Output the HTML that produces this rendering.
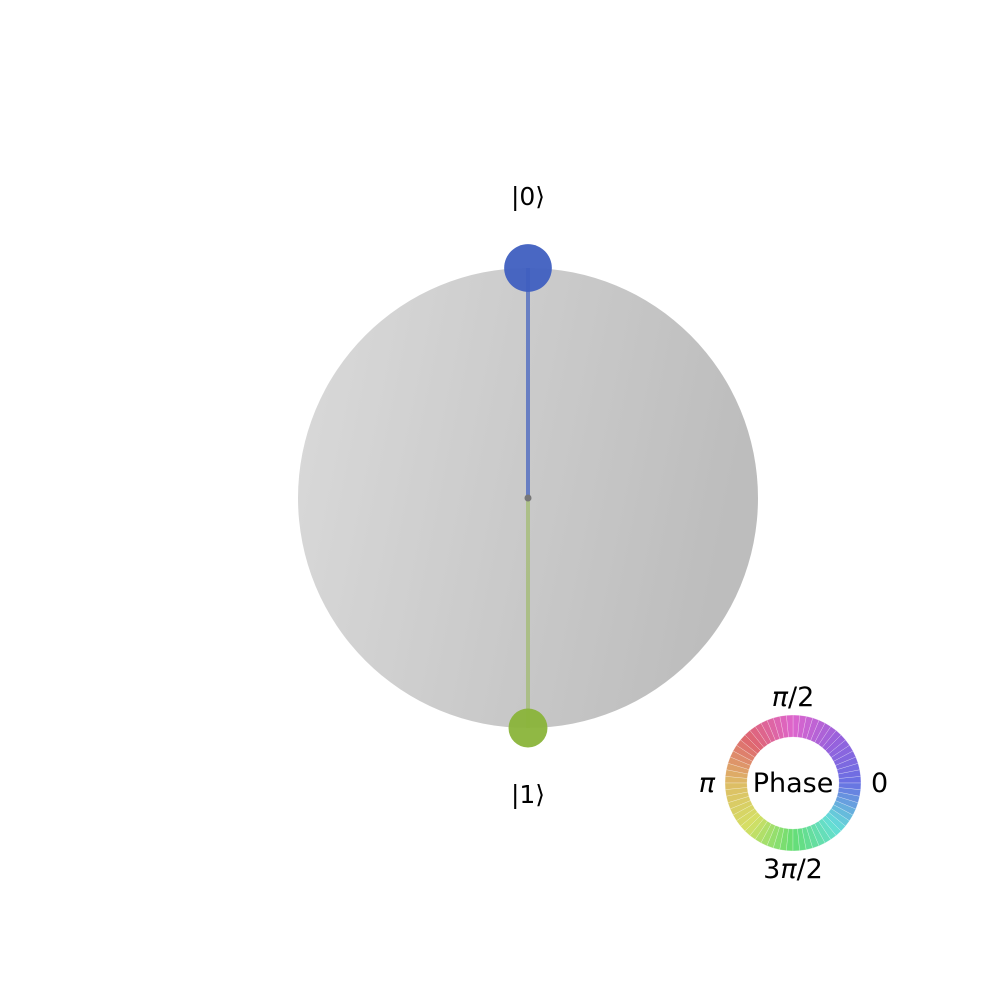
<!DOCTYPE html>
<html><head><meta charset="utf-8"><style>
body{margin:0;background:#fff}
svg{display:block}
text{font-family:"DejaVu Sans","Liberation Sans",sans-serif;fill:#000}
</style></head><body>
<svg id="c" width="1008" height="1008" viewBox="0 0 1008 1008">
<defs>
<linearGradient id="sg" x1="0" y1="0" x2="1" y2="0.2">
<stop offset="0" stop-color="#dadada"/><stop offset="1" stop-color="#bdbdbd"/>
</linearGradient>
</defs>
<circle cx="528" cy="498" r="230" fill="url(#sg)"/>
<g id="states"></g>
<g id="wheel"></g>
<text x="528" y="205" font-size="25" text-anchor="middle">|0⟩</text>
<text x="528" y="803" font-size="25" text-anchor="middle">|1⟩</text>
<text x="793" y="792" font-size="27" text-anchor="middle">Phase</text>
<text x="793" y="706" font-size="27" text-anchor="middle"><tspan font-style="italic">π</tspan>/2</text>
<text x="871" y="792" font-size="27">0</text>
<text x="715" y="792" font-size="27" text-anchor="end" font-style="italic">π</text>
<text x="793" y="878" font-size="27" text-anchor="middle">3<tspan font-style="italic">π</tspan>/2</text>
</svg>
<script>
const stateNames=["|0⟩","|1⟩"];
const stateY=[1,-1]; // z coordinate on sphere
const stateProb=[0.6,0.4];
const stateColors=["#3f5fc0","#8ab43a"];
const cx=528,cy=498,R=230;
const ns="http://www.w3.org/2000/svg";
const g=document.getElementById('states');
function py(z){return cy-z*R;}
stateY.forEach((z,i)=>{
  const l=document.createElementNS(ns,'line');
  l.setAttribute('x1',cx);l.setAttribute('y1',cy);l.setAttribute('x2',cx);l.setAttribute('y2',py(z));
  l.setAttribute('stroke',stateColors[i]);l.setAttribute('stroke-width',4);l.setAttribute('opacity',z>0?0.7:0.45);
  
  
  g.appendChild(l);
});
stateY.forEach((z,i)=>{
  const c=document.createElementNS(ns,'circle');
  c.setAttribute('cx',cx);c.setAttribute('cy',py(z));c.setAttribute('r',30*Math.sqrt(stateProb[i]/0.95));
  c.setAttribute('fill',stateColors[i]);c.setAttribute('opacity',0.95);
  
  
  g.appendChild(c);
});
const o=document.createElementNS(ns,'circle');
o.setAttribute('cx',cx);o.setAttribute('cy',cy);o.setAttribute('r',3.5);o.setAttribute('fill','#777');


g.appendChild(o);
// phase wheel
const stops=[[0,[88,96,224]],[0.25,[140,80,216]],[0.5,[218,84,200]],[0.75,[218,84,96]],[1,[218,180,84]],[1.25,[208,220,84]],[1.5,[84,218,100]],[1.75,[84,218,212]],[2,[88,96,224]]];
function col(t){for(let k=0;k<stops.length-1;k++){const a=stops[k],b=stops[k+1];if(t>=a[0]&&t<=b[0]){const f=(t-a[0])/(b[0]-a[0]);return 'rgb('+a[1].map((v,j)=>Math.round(v+(b[1][j]-v)*f)).join(',')+')';}}return 'rgb(88,96,224)';}
const w=document.getElementById('wheel');const wx=793,wy=783,ro=68,ri=46,N=64;
for(let k=0;k<N;k++){
  const a0=k/N*2*Math.PI,a1=(k+1)/N*2*Math.PI;
  const p=(a,r)=>[wx+r*Math.cos(a),wy-r*Math.sin(a)];
  const A=p(a0,ro),B=p(a1,ro),C=p(a1,ri),D=p(a0,ri);
  const s=document.createElementNS(ns,'path');
  s.setAttribute('d',`M${A}L${B}L${C}L${D}Z`);
  s.setAttribute('fill',col((k+0.5)/N*2));s.setAttribute('fill-opacity',0.9);s.setAttribute('stroke','#fff');s.setAttribute('stroke-width',0.4);s.setAttribute('stroke-opacity',0.6);
  
  
  w.appendChild(s);
}
</script>
</body></html>
